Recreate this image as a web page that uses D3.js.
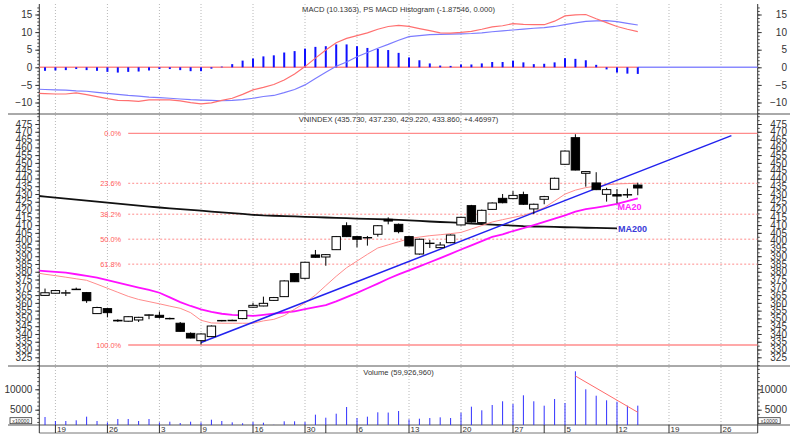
<!DOCTYPE html>
<html>
<head>
<meta charset="utf-8">
<title>VNINDEX - MACD / Volume</title>
<script src="https://d3js.org/d3.v7.min.js"></script>
<style>
  body { margin: 0; background: #fff; }
  text { font-family: "Liberation Sans", Arial, sans-serif; }
</style>
</head>
<body>
<div id="chart"></div>
<script>

// ---- data (index 0 = first candle on the chart) ----
// date labels on the bottom axis: [bar index, label]
var dayTicks = [[1,"19"],[6,"26"],[11,"3"],[15,"9"],[20,"16"],[25,"30"],[30,"6"],
                [35,"13"],[40,"20"],[45,"27"],[50,"5"],[55,"12"],[60,"19"],[65,"26"]];
var monthTicks = [27, 48];

var opens  = [364.8,366.2,366.3,368.5,366.6,353.1,356.3,348.4,348.2,349.0,352.0,352.0,350.0,346.9,340.4,335.7,338.3,348.4,348.5,349.9,
              357.2,358.0,361.6,364.0,378.8,375.8,390.8,389.5,394.2,409.6,402.6,402.0,404.1,413.7,410.5,402.6,391.4,398.2,395.5,398.7,
              410.1,422.5,411.6,420.1,427.2,427.0,429.6,420.4,426.6,433.0,449.1,466.2,443.3,437.1,429.8,429.6,429.6,435.73];
var highs  = [369.2,368.3,368.3,369.8,367.0,357.5,356.6,349.4,351.4,351.0,352.6,354.4,350.5,347.7,341.0,340.4,345.5,349.0,349.2,355.4,
              360.1,364.0,363.8,374.5,379.2,386.5,394.0,391.4,403.0,411.8,403.0,403.0,410.0,415.0,411.0,403.0,401.3,400.4,399.1,404.0,
              415.4,423.0,420.0,424.6,430.0,431.9,431.5,423.8,428.8,440.5,458.0,468.4,444.8,444.0,434.0,433.2,433.5,437.23];
var lows   = [364.5,366.0,364.4,368.3,360.0,353.0,350.7,347.8,347.9,347.7,349.5,349.9,349.4,341.5,337.2,333.2,338.0,348.1,348.3,349.5,
              357.0,357.8,361.4,363.8,373.4,375.0,389.0,383.9,394.0,402.3,395.7,396.8,402.6,410.5,404.7,396.4,391.0,395.3,395.3,398.4,
              409.8,411.6,411.3,419.7,424.0,426.8,423.0,417.1,423.4,432.8,448.8,445.2,434.7,432.5,425.1,424.0,427.5,429.22];
var closes = [366.5,367.9,366.5,368.8,361.4,357.0,353.7,348.8,351.1,350.7,352.3,350.7,349.8,341.7,337.4,340.0,345.1,348.7,348.8,355.0,
              358.4,359.7,363.4,374.1,373.6,386.1,389.3,391.0,402.6,402.6,400.9,401.8,409.6,412.6,405.8,396.6,400.9,398.4,397.2,403.6,
              415.0,412.0,419.5,424.2,424.4,429.1,423.4,423.4,428.3,440.1,457.6,445.4,444.4,432.8,432.8,428.7,429.4,433.86];

// volume, in units of 10000 shares
var volumes = [3210,2230,2230,2400,3290,2230,1900,2720,2720,2230,2720,1900,2060,1740,2060,1900,2550,2230,1900,1670,
               1990,1810,1300,2150,2150,1990,3780,3040,4020,5660,2960,3290,4360,4300,4680,2640,2800,2960,3130,2960,
               4270,5740,4850,6150,7060,6400,8530,7060,5980,7620,6640,14410,10000,8430,7300,6960,5980,5993];

// the lines below start one bar before the first candle (index -1)
var LINE_START = -1;
var ma10 = [379.5,378.4,377.5,376.5,375.5,374.5,372.0,369.4,366.8,364.2,362.2,360.8,359.4,357.9,356.5,353.7,348.8,347.1,346.9,346.9,
            346.9,346.9,348.4,349.4,351.8,355.9,360.0,365.0,371.1,377.1,382.6,386.9,391.2,395.3,397.3,399.3,401.3,402.3,403.2,403.8,
            404.5,405.3,407.5,409.7,412.0,413.5,414.9,416.3,418.4,421.2,425.5,429.9,432.5,434.1,435.1,435.9,436.5,436.7,436.9];
var ma20 = [380.9,380.4,379.9,379.4,378.4,377.3,376.2,374.6,373.0,371.4,369.8,368.3,366.5,363.5,360.5,358.0,355.8,354.2,353.0,352.3,
            351.9,351.6,352.3,353.1,353.8,354.6,355.9,357.2,358.5,361.0,363.7,366.4,369.4,372.4,375.5,378.3,380.9,383.5,386.1,388.8,
            391.5,394.3,397.0,399.7,402.4,404.1,406.2,408.0,410.0,412.1,414.2,416.3,418.7,420.3,421.3,422.3,423.6,425.4,427.2];
var ma200 = [429.0,428.3,427.7,427.0,426.4,425.7,425.1,424.4,423.8,423.1,422.5,421.9,421.3,420.8,420.3,419.8,419.3,418.7,418.2,417.7,
             417.2,416.6,416.2,416.0,415.8,415.6,415.3,415.1,414.9,414.7,414.5,414.2,414.0,413.8,413.6,413.3,413.0,412.7,412.3,412.0,
             411.7,411.4,411.0,410.7,410.3,410.0,409.7,409.3,409.1,409.0,408.8,408.6,408.5,408.3,408.2,408.0,407.9];
var macdLine = [-7.4,-7.48,-7.58,-7.58,-7.29,-7.77,-8.33,-8.9,-9.38,-9.47,-9.66,-9.28,-9.28,-9.28,-9.56,-10.04,-10.4,-10.1,-9.4,-8.8,
                -7.7,-6.4,-5.7,-4.9,-3.6,-1.9,0.2,2.6,4.9,7.0,8.2,9.0,9.8,10.8,11.6,11.9,11.6,11.0,10.4,9.8,
                9.7,9.9,10.2,10.8,11.5,11.8,12.4,12.2,12.1,12.1,13.1,14.6,14.9,15.0,13.8,12.7,11.6,10.8,10.14];
var signalLine = [-6.2,-6.3,-6.4,-6.5,-6.7,-6.8,-7.1,-7.4,-7.7,-8.0,-8.2,-8.5,-8.6,-8.8,-9.0,-9.2,-9.3,-9.4,-9.5,-9.4,
                  -9.2,-8.8,-8.3,-8.0,-7.2,-6.3,-5.0,-3.2,-1.4,0.3,1.5,3.0,4.2,5.4,6.5,7.7,8.7,9.0,9.3,9.35,
                  9.4,9.5,9.6,9.8,10.1,10.35,10.6,10.85,11.1,11.25,11.6,12.1,12.6,13.05,13.2,13.25,13.0,12.5,12.02];
// histogram starts at index 0
var macdHist = [-1.0,-0.9,-0.8,-0.5,-0.8,-1.0,-1.3,-1.5,-1.3,-1.2,-0.9,-0.5,-0.5,-0.8,-1.1,-1.1,-0.4,0.2,0.9,1.9,
                2.5,3.1,3.4,4.2,4.6,5.3,5.8,6.0,6.5,6.5,6.0,5.5,5.2,4.9,4.1,2.8,2.0,1.1,0.5,0.4,
                0.8,0.8,1.1,1.5,1.5,1.9,1.4,0.9,1.0,1.4,2.6,2.4,2.0,0.7,-0.6,-1.5,-1.8,-1.88];

// trend line [bar index, price] and volume trend [bar index, volume]
var trendPts = [[15, 334.5], [66, 467.5]];
var volTrendPts = [[51, 13260], [57, 4360]];

// fibonacci retracement
var fibHigh = 469.0, fibLow = 332.9, fibStart = 8;
var fibRatios = [0, 0.236, 0.382, 0.5, 0.618, 1];
var fibLabels = ["0.0%", "23.6%", "38.2%", "50.0%", "61.8%", "100.0%"];

var macdTicks = [-10, -5, 0, 5, 10, 15];
var priceTicks = d3.range(325, 476, 5);
var volTicks = [5000, 10000];

// ---- layout ----
var W = 797, H = 434;
var plotLeft = 39.3, plotRight = 757.7;
var panels = {
  macd:  {top: 4,   bottom: 114},
  price: {top: 114, bottom: 366},
  vol:   {top: 366, bottom: 425}
};
var axisBottom = 433;

var svg = d3.select("#chart").append("svg")
  .attr("width", W).attr("height", H)
  .style("display", "block");
svg.append("rect").attr("width", W).attr("height", H).attr("fill", "#fff");

// scales
var x = d3.scaleLinear().domain([-0.55, 68.53]).range([plotLeft, plotRight]);
var yMacd = d3.scaleLinear().domain([-10, 15]).range([102.5, 14.5]);
var yPrice = d3.scaleLinear().domain([325, 475]).range([357.3, 124]);
var yVol = d3.scaleLinear().domain([5000, 10000]).range([409.7, 389.3]);

// clip paths for each panel
var defs = svg.append("defs");
Object.keys(panels).forEach(function(k) {
  defs.append("clipPath").attr("id", "clip-" + k)
    .append("rect")
    .attr("x", plotLeft).attr("y", panels[k].top)
    .attr("width", plotRight - plotLeft)
    .attr("height", panels[k].bottom - panels[k].top);
});

// vertical dotted grid
svg.append("g").selectAll("line")
  .data(dayTicks)
  .join("line")
  .attr("x1", function(d) { return x(d[0]); })
  .attr("x2", function(d) { return x(d[0]); })
  .attr("y1", panels.macd.top)
  .attr("y2", panels.vol.bottom)
  .attr("stroke", "#b8b8b8")
  .attr("stroke-dasharray", "1,2");

// panel separators and frame
[panels.price.top, panels.vol.top, panels.vol.bottom].forEach(function(yy) {
  svg.append("line").attr("x1", 8).attr("x2", 790).attr("y1", yy).attr("y2", yy)
    .attr("stroke", "#555").attr("stroke-width", 1);
});
svg.append("line").attr("x1", plotLeft).attr("x2", plotRight).attr("y1", axisBottom).attr("y2", axisBottom)
  .attr("stroke", "#777");
[plotLeft, plotRight].forEach(function(xx) {
  svg.append("line").attr("x1", xx).attr("x2", xx).attr("y1", panels.macd.top).attr("y2", axisBottom)
    .attr("stroke", "#333");
});

// y axes on both sides (major labelled ticks + minor ticks)
function sideAxes(scale, major, minor, fontSize) {
  var parts = [
    [d3.axisLeft, plotLeft], [d3.axisRight, plotRight]
  ];
  parts.forEach(function(p) {
    svg.append("g")
      .attr("transform", "translate(" + p[1] + ",0)")
      .attr("color", "#444")
      .call(p[0](scale).tickValues(minor).tickSize(2).tickFormat(""))
      .call(function(g) { g.select(".domain").remove(); g.selectAll("text").remove(); });
    var g = svg.append("g")
      .attr("transform", "translate(" + p[1] + ",0)")
      .attr("color", "#333")
      .attr("font-size", fontSize)
      .attr("font-family", "Liberation Sans, Arial, sans-serif")
      .call(p[0](scale).tickValues(major).tickSize(4).tickPadding(3).tickFormat(d3.format("d")))
      .call(function(g) { g.select(".domain").remove(); });
    if (p[0] === d3.axisRight) {
      g.selectAll("text").attr("x", 787 - plotRight).attr("text-anchor", "end");
    }
  });
}
sideAxes(yMacd, macdTicks, d3.range(-13, 18, 1), 8);
sideAxes(yPrice, priceTicks, d3.range(320, 481, 2.5), 6.3);
sideAxes(yVol, volTicks, d3.range(2000, 15001, 1000), 8);

// x10000 boxes on the volume axis
[[10, 21.7], [758.2, 22]].forEach(function(b) {
  svg.append("rect").attr("x", b[0]).attr("y", 417.7).attr("width", b[1]).attr("height", 6)
    .attr("fill", "#fff").attr("stroke", "#333").attr("stroke-width", 0.8);
  svg.append("text").attr("x", b[0] + b[1] / 2).attr("y", 422.6)
    .attr("text-anchor", "middle").attr("font-size", 5.2).attr("fill", "#333")
    .text("x10000");
});

// date axis
svg.append("g").selectAll("line")
  .data(dayTicks.map(function(d) { return d[0]; }).concat(monthTicks))
  .join("line")
  .attr("x1", function(d) { return x(d); })
  .attr("x2", function(d) { return x(d); })
  .attr("y1", panels.vol.bottom).attr("y2", axisBottom)
  .attr("stroke", "#333");
svg.append("g").selectAll("text")
  .data(dayTicks)
  .join("text")
  .attr("x", function(d) { return x(d[0]) + 1.6; })
  .attr("y", 432)
  .attr("font-size", 8)
  .attr("fill", "#333")
  .text(function(d) { return d[1]; });

// titles
var titles = [
  [12, "MACD (10.1363), PS MACD Histogram (-1.87546, 0.000)"],
  [121.5, "VNINDEX (435.730, 437.230, 429.220, 433.860, +4.46997)"],
  [374.8, "Volume (59,926,960)"]
];
titles.forEach(function(t) {
  svg.append("text").attr("x", 398.5).attr("y", t[0])
    .attr("text-anchor", "middle").attr("font-size", 7.6).attr("fill", "#333")
    .text(t[1]);
});

// ---- MACD panel ----
var gM = svg.append("g").attr("clip-path", "url(#clip-macd)");
var lastIdx = closes.length - 1;
gM.append("line").attr("x1", plotLeft).attr("x2", x(lastIdx))
  .attr("y1", yMacd(0)).attr("y2", yMacd(0))
  .attr("stroke", "#ff8a8a").attr("stroke-width", 1.4);
gM.append("line").attr("x1", x(lastIdx)).attr("x2", plotRight)
  .attr("y1", yMacd(0)).attr("y2", yMacd(0))
  .attr("stroke", "#8a8aff").attr("stroke-width", 1.4);

gM.selectAll("rect.hist")
  .data(macdHist)
  .join("rect")
  .attr("class", "hist")
  .attr("x", function(d, i) { return x(i) - 1; })
  .attr("width", 2)
  .attr("y", function(d) { return yMacd(Math.max(0, d)); })
  .attr("height", function(d) { return Math.abs(yMacd(d) - yMacd(0)); })
  .attr("fill", "#1010ff");

var lineFrom = function(scale) {
  return d3.line()
    .x(function(d, i) { return x(i + LINE_START); })
    .y(function(d) { return scale(d); });
};
gM.append("path").attr("d", lineFrom(yMacd)(signalLine))
  .attr("fill", "none").attr("stroke", "#7c7cff").attr("stroke-width", 1.2);
gM.append("path").attr("d", lineFrom(yMacd)(macdLine))
  .attr("fill", "none").attr("stroke", "#ff7070").attr("stroke-width", 1.2);

// ---- price panel ----
var gP = svg.append("g").attr("clip-path", "url(#clip-price)");

// fibonacci levels
fibRatios.forEach(function(r, k) {
  var lvl = fibHigh - (fibHigh - fibLow) * r;
  var solid = (r === 0 || r === 1);
  gP.append("line")
    .attr("x1", x(fibStart)).attr("x2", plotRight)
    .attr("y1", yPrice(lvl)).attr("y2", yPrice(lvl))
    .attr("stroke", "#ff8c8c")
    .attr("stroke-width", solid ? 1.3 : 1)
    .attr("stroke-dasharray", solid ? null : "2,2");
  gP.append("text")
    .attr("x", x(fibStart) - 7).attr("y", yPrice(lvl) + 2.7)
    .attr("text-anchor", "end").attr("font-size", 7.4)
    .attr("fill", "#ff5a5a")
    .text(fibLabels[k]);
});

// moving averages
gP.append("path").attr("d", lineFrom(yPrice)(ma200))
  .attr("fill", "none").attr("stroke", "#111").attr("stroke-width", 1.8);
gP.append("path").attr("d", lineFrom(yPrice)(ma20))
  .attr("fill", "none").attr("stroke", "#ff10ff").attr("stroke-width", 1.8);
gP.append("path").attr("d", lineFrom(yPrice)(ma10))
  .attr("fill", "none").attr("stroke", "#ff8c8c").attr("stroke-width", 1);

// trend line
gP.append("line")
  .attr("x1", x(trendPts[0][0])).attr("y1", yPrice(trendPts[0][1]))
  .attr("x2", x(trendPts[1][0])).attr("y2", yPrice(trendPts[1][1]))
  .attr("stroke", "#2222ee").attr("stroke-width", 1.5);

// candles
var candles = opens.map(function(o, i) {
  return {i: i, o: o, h: highs[i], l: lows[i], c: closes[i]};
});
var bodyW = 8.4;
gP.selectAll("line.wick")
  .data(candles)
  .join("line")
  .attr("class", "wick")
  .attr("x1", function(d) { return x(d.i); })
  .attr("x2", function(d) { return x(d.i); })
  .attr("y1", function(d) { return yPrice(d.h); })
  .attr("y2", function(d) { return yPrice(d.l); })
  .attr("stroke", "#000");
gP.selectAll("rect.body")
  .data(candles)
  .join("rect")
  .attr("class", "body")
  .attr("x", function(d) { return x(d.i) - bodyW / 2; })
  .attr("width", bodyW)
  .attr("y", function(d) { return yPrice(Math.max(d.o, d.c)); })
  .attr("height", function(d) { return Math.max(0.4, Math.abs(yPrice(d.o) - yPrice(d.c))); })
  .attr("fill", function(d) { return d.c >= d.o ? "#fff" : "#000"; })
  .attr("stroke", "#000")
  .attr("stroke-width", 1);

// labels for the averages
var lastMa200 = LINE_START + ma200.length - 1;
svg.append("text").attr("x", x(lastMa200) + 0.5).attr("y", yPrice(ma20[ma20.length - 1]) + 11.5)
  .attr("font-size", 9).attr("font-weight", "bold").attr("fill", "#ff22ff").text("MA20");
svg.append("text").attr("x", x(lastMa200) + 1).attr("y", yPrice(ma200[ma200.length - 1]) + 4)
  .attr("font-size", 9).attr("font-weight", "bold").attr("fill", "#3a3ad8").text("MA200");

// ---- volume panel ----
var gV = svg.append("g").attr("clip-path", "url(#clip-vol)");
gV.selectAll("line.vbar")
  .data(volumes)
  .join("line")
  .attr("class", "vbar")
  .attr("x1", function(d, i) { return x(i); })
  .attr("x2", function(d, i) { return x(i); })
  .attr("y1", panels.vol.bottom)
  .attr("y2", function(d) { return yVol(d); })
  .attr("stroke", "#3030ff")
  .attr("stroke-width", 1);
gV.append("line")
  .attr("x1", x(volTrendPts[0][0])).attr("y1", yVol(volTrendPts[0][1]))
  .attr("x2", x(volTrendPts[1][0])).attr("y2", yVol(volTrendPts[1][1]))
  .attr("stroke", "#ff6a6a").attr("stroke-width", 1);

</script>
</body>
</html>
